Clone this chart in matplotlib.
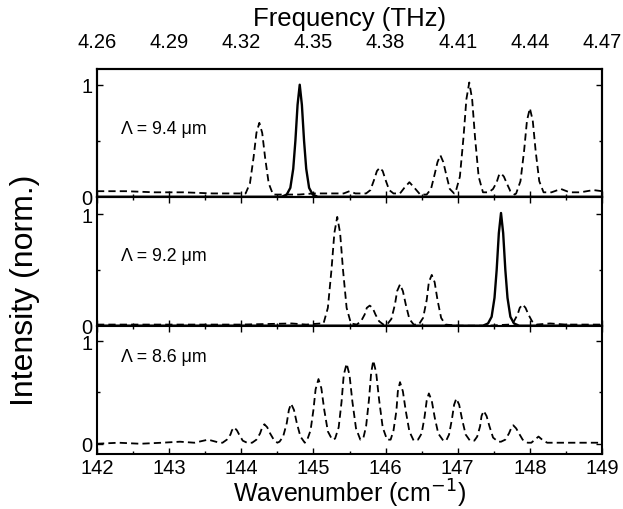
#!/usr/bin/env python3

import numpy as np
import matplotlib.pyplot as plt
from matplotlib.ticker import FixedLocator, MultipleLocator

plt.rcParams['font.family'] = ['Liberation Sans', 'DejaVu Sans']

''' values read off the reference picture: (wavenumber in cm^-1, normalised intensity) '''

# Lambda = 9.4 um panel
top_dash = np.array([
    (142.0, .05), (142.4, .05), (142.8, .04), (143.2, .04), (143.6, .03), (143.9, .03),
    (144.06, .03), (144.12, .12), (144.17, .35), (144.21, .57), (144.25, .66),
    (144.29, .57), (144.33, .35), (144.38, .12), (144.44, .02),
    (144.6, .02), (144.8, .02), (145.0, .03), (145.2, .03), (145.42, .03),
    (145.5, .05), (145.58, .03),
    (145.73, .03), (145.79, .06), (145.84, .15), (145.88, .23), (145.92, .26),
    (145.96, .23), (146.0, .15), (146.05, .06), (146.11, .03),
    (146.2, .03), (146.26, .08), (146.33, .13), (146.4, .08), (146.48, .02),
    (146.57, .02), (146.63, .07), (146.68, .20), (146.72, .31), (146.76, .37),
    (146.8, .31), (146.84, .20), (146.89, .07), (146.95, .03),
    (146.97, .04), (147.03, .18), (147.08, .53), (147.12, .87), (147.16, 1.02),
    (147.2, .87), (147.24, .53), (147.29, .18), (147.35, .04),
    (147.43, .04), (147.49, .07), (147.54, .13), (147.57, .19), (147.6, .21),
    (147.64, .18), (147.68, .12), (147.73, .05), (147.79, .02),
    (147.81, .03), (147.87, .14), (147.92, .41), (147.96, .68), (148.0, .79),
    (148.04, .68), (148.08, .41), (148.13, .14), (148.19, .04),
    (148.3, .04), (148.43, .07), (148.55, .04), (148.7, .04), (148.88, .06), (149.0, .05)])
top_solid = np.array([
    (142.0, 0), (144.56, 0), (144.63, .02), (144.68, .08), (144.72, .25), (144.75, .50),
    (144.78, .82), (144.81, 1.0), (144.84, .82), (144.87, .50), (144.9, .25),
    (144.94, .08), (144.99, .02), (145.06, 0), (149.0, 0)])

# Lambda = 9.2 um panel
mid_dash = np.array([
    (142.0, .01), (143.0, .01), (144.0, .01), (144.7, .02), (144.9, .01), (145.1, .02),
    (145.14, .02), (145.2, .16), (145.25, .50), (145.29, .83), (145.33, .975),
    (145.37, .83), (145.41, .50), (145.46, .16), (145.52, .02),
    (145.6, .01), (145.66, .04), (145.71, .10), (145.74, .16), (145.78, .18),
    (145.82, .16), (145.86, .10), (145.91, .04), (145.97, .01),
    (146.02, .01), (146.08, .06), (146.13, .19), (146.16, .31), (146.2, .37),
    (146.24, .31), (146.28, .19), (146.33, .06), (146.39, .01),
    (146.46, .01), (146.52, .07), (146.57, .23), (146.6, .39), (146.64, .455),
    (146.68, .39), (146.72, .23), (146.77, .07), (146.83, .01),
    (147.0, 0), (147.4, 0),
    (147.72, .01), (147.78, .04), (147.83, .10), (147.86, .16), (147.9, .19),
    (147.94, .16), (147.98, .10), (148.03, .04), (148.09, .01),
    (148.28, .02), (148.5, .01), (149.0, .01)])
mid_solid = np.array([
    (142.0, 0), (147.35, 0), (147.42, .02), (147.47, .08), (147.51, .25), (147.54, .50),
    (147.57, .83), (147.6, 1.01), (147.63, .83), (147.66, .50), (147.69, .25),
    (147.73, .08), (147.78, .02), (147.85, 0), (149.0, 0)])

# Lambda = 8.6 um panel
bot_dash = np.array([
    (142.0, 0), (142.3, .01), (142.6, 0), (142.9, .01), (143.15, .02), (143.35, .01),
    (143.54, .04), (143.7, .01),
    (143.74, .01), (143.8, .04), (143.85, .09), (143.87, .13), (143.9, .16),
    (143.94, .13), (143.97, .09), (144.02, .03), (144.08, .01),
    (144.15, .01), (144.21, .04), (144.26, .10), (144.29, .16), (144.32, .19),
    (144.36, .16), (144.4, .10), (144.45, .04), (144.5, .01),
    (144.53, .02), (144.58, .07), (144.63, .20), (144.66, .33), (144.69, .39),
    (144.73, .33), (144.77, .20), (144.82, .07), (144.88, .01),
    (144.91, .03), (144.96, .13), (145.0, .33), (145.03, .53), (145.07, .63),
    (145.11, .54), (145.15, .33), (145.2, .12), (145.26, .04),
    (145.3, .05), (145.35, .16), (145.39, .41), (145.42, .67), (145.46, .78),
    (145.5, .67), (145.54, .41), (145.59, .15), (145.65, .04),
    (145.69, .05), (145.73, .17), (145.77, .43), (145.8, .69), (145.83, .81),
    (145.87, .69), (145.91, .43), (145.96, .16), (146.02, .04),
    (146.07, .04), (146.11, .13), (146.15, .32), (146.17, .51), (146.2, .60),
    (146.24, .51), (146.28, .32), (146.33, .12), (146.39, .03),
    (146.45, .04), (146.5, .10), (146.54, .26), (146.57, .42), (146.6, .49),
    (146.64, .42), (146.68, .26), (146.73, .10), (146.8, .03),
    (146.84, .03), (146.88, .09), (146.92, .24), (146.95, .38), (146.98, .44),
    (147.02, .38), (147.06, .24), (147.11, .09), (147.17, .03),
    (147.23, .03), (147.27, .07), (147.31, .17), (147.33, .27), (147.36, .32),
    (147.4, .27), (147.44, .17), (147.49, .06), (147.56, .02),
    (147.6, .02), (147.66, .04), (147.71, .10), (147.74, .15), (147.77, .18),
    (147.81, .15), (147.85, .10), (147.9, .04), (147.97, .01),
    (148.02, .01), (148.07, .04), (148.12, .07), (148.17, .04), (148.24, .01),
    (148.5, .01), (148.8, .01), (149.0, .01)])

labels = ['\u039b = 9.4 \u03bcm', '\u039b = 9.2 \u03bcm', '\u039b = 8.6 \u03bcm']
label_pos = [0.54, 0.55, 0.76]
ylims = [(-0.005, 1.14), (0.0, 1.15), (-0.10, 1.15)]

wn_ticks = [142, 143, 144, 145, 146, 147, 148, 149]
freq_labels = ['4.26', '4.29', '4.32', '4.35', '4.38', '4.41', '4.44', '4.47']

dash_style = dict(color='k', lw=1.3, dashes=(4, 2.3))
solid_style = dict(color='k', lw=1.7)

fig, axes = plt.subplots(3, 1, sharex=True, figsize=(6.23, 5.10), dpi=100,
                         gridspec_kw=dict(hspace=0))
fig.subplots_adjust(left=0.1557, right=0.9663, top=0.8627, bottom=0.1078)

axes[0].plot(top_dash[:, 0], top_dash[:, 1], **dash_style)
axes[0].plot(top_solid[:, 0], top_solid[:, 1], **solid_style)
axes[1].plot(mid_dash[:, 0], mid_dash[:, 1], **dash_style)
axes[1].plot(mid_solid[:, 0], mid_solid[:, 1], **solid_style)
axes[2].plot(bot_dash[:, 0], bot_dash[:, 1], **dash_style)

for ax, lab, ypos, yl in zip(axes, labels, label_pos, ylims):
    ax.set_xlim(142, 149)
    ax.set_ylim(*yl)
    ax.set_yticks([0, 1])
    ax.set_yticklabels(['0', '1'])
    ax.yaxis.set_minor_locator(FixedLocator([0.5]))
    ax.xaxis.set_major_locator(FixedLocator(wn_ticks))
    ax.xaxis.set_minor_locator(MultipleLocator(0.5))
    ax.tick_params(which='both', direction='in', top=True, right=True,
                   width=1.0, labelsize=14.5, pad=3)
    ax.tick_params(which='major', length=4)
    ax.tick_params(which='minor', length=2.5)
    for sp in ax.spines.values():
        sp.set_linewidth(1.5)
    ax.text(0.047, ypos, lab, transform=ax.transAxes, fontsize=12.8,
            va='center', ha='left')

axes[2].set_xticklabels([str(t) for t in wn_ticks])
axes[2].set_xlabel('Wavenumber (cm$^{-1}$)', fontsize=18, labelpad=0)
axes[1].set_ylabel('Intensity (norm.)', fontsize=23)
axes[1].yaxis.set_label_coords(-0.113, 0.28)

# frequency scale on top, same positions as the wavenumber ticks
top = axes[0].twiny()
top.set_xlim(142, 149)
top.xaxis.set_major_locator(FixedLocator(wn_ticks))
top.set_xticklabels(freq_labels)
top.tick_params(direction='in', length=0, labelsize=14.5, pad=13)
top.set_xlabel('Frequency (THz)', fontsize=18.5, labelpad=5)
for sp in top.spines.values():
    sp.set_linewidth(1.5)

plt.savefig('out.png', dpi=100)
